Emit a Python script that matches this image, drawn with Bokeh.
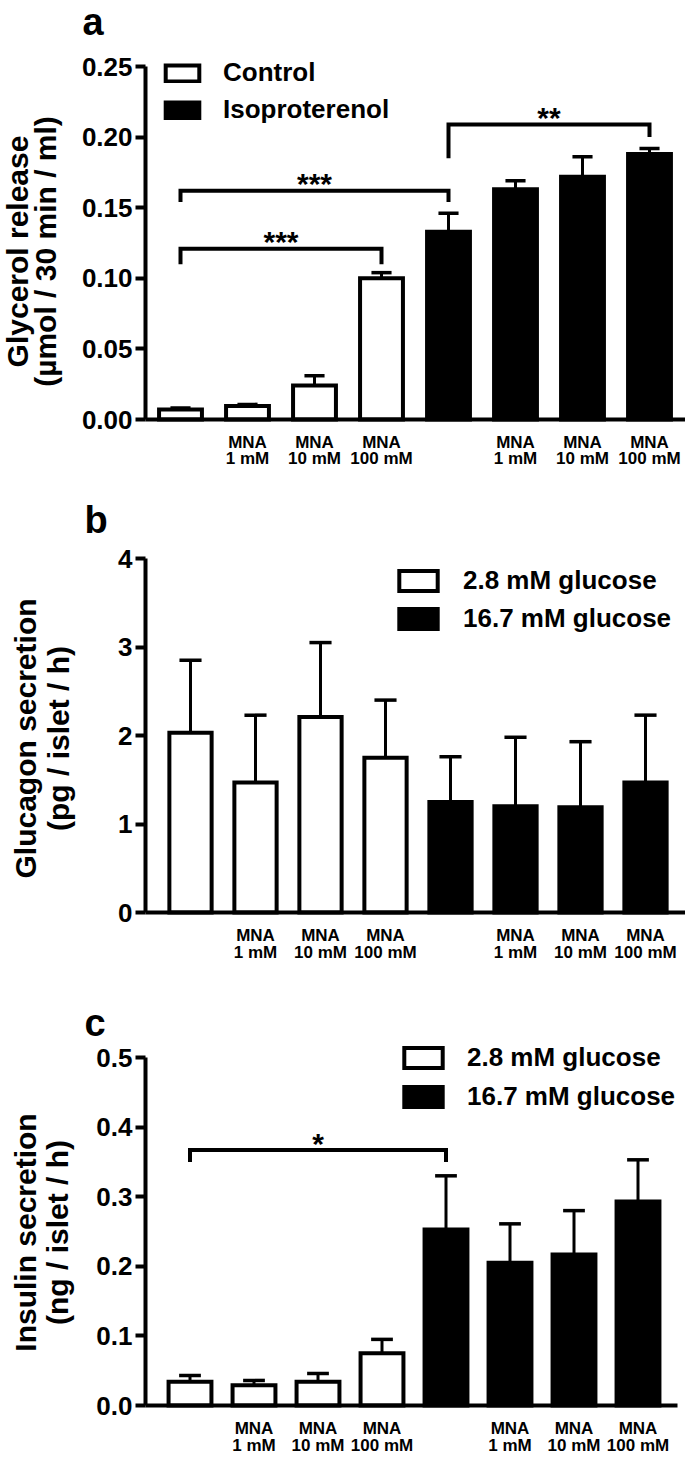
from math import pi
from bokeh.plotting import figure
from bokeh.models import (Range1d, FixedTicker, NumeralTickFormatter, Label, Legend,
                          LegendItem, ColumnDataSource)
from bokeh.layouts import column
from bokeh.embed import file_html
from bokeh.resources import INLINE
from bokeh.core.properties import value

FONT = "Liberation Sans"

# ---------------- shared categories ----------------
positions = [0, 1, 2, 3, 4, 5, 6, 7]
cat_line1 = ["", "MNA", "MNA", "MNA", "", "MNA", "MNA", "MNA"]
cat_line2 = ["", "1 mM", "10 mM", "100 mM", "", "1 mM", "10 mM", "100 mM"]
group_of = [0, 0, 0, 0, 1, 1, 1, 1]

# ---------------- panel a: glycerol ----------------
glycerol_groups = ["Control", "Isoproterenol"]
glycerol_mean = [0.007, 0.0095, 0.024, 0.100, 0.133, 0.163, 0.172, 0.188]
glycerol_sem = [0.0012, 0.0012, 0.007, 0.004, 0.013, 0.006, 0.014, 0.004]
glycerol_ticks = [0.0, 0.05, 0.10, 0.15, 0.20, 0.25]
glycerol_title = ["Glycerol release", "(µmol / 30 min / ml)"]
glycerol_br_left = [0, 0, 4]
glycerol_br_right = [3, 4, 7]
glycerol_br_y = [0.121, 0.162, 0.209]
glycerol_br_drop_left = [0.110, 0.154, 0.185]
glycerol_br_drop_right = [0.110, 0.154, 0.200]
glycerol_br_stars = ["***", "***", "**"]

# ---------------- panel b: glucagon ----------------
glucagon_groups = ["2.8 mM glucose", "16.7 mM glucose"]
glucagon_mean = [2.03, 1.47, 2.21, 1.75, 1.25, 1.20, 1.19, 1.47]
glucagon_sem = [0.82, 0.76, 0.84, 0.65, 0.51, 0.78, 0.74, 0.76]
glucagon_ticks = [0, 1, 2, 3, 4]
glucagon_title = ["Glucagon secretion", "(pg / islet / h)"]

# ---------------- panel c: insulin ----------------
insulin_groups = ["2.8 mM glucose", "16.7 mM glucose"]
insulin_mean = [0.034, 0.029, 0.034, 0.075, 0.253, 0.205, 0.217, 0.293]
insulin_sem = [0.009, 0.007, 0.012, 0.020, 0.077, 0.056, 0.063, 0.060]
insulin_ticks = [0.0, 0.1, 0.2, 0.3, 0.4, 0.5]
insulin_title = ["Insulin secretion", "(ng / islet / h)"]
insulin_br_left = [0]
insulin_br_right = [4]
insulin_br_y = [0.367]
insulin_br_drop_left = [0.350]
insulin_br_drop_right = [0.350]
insulin_br_stars = ["*"]

FILLS = ["white", "black"]
PAGE_LEFT, PAGE_RIGHT = 0, 685


def make_panel(letter, means, sems, groups, ymax, ticks, fmt, title, g, brackets=None):
    top, H = g["top"], g["H"]
    bottom = top + H
    x0, pitch = g["x0"], g["pitch"]
    zero, ppu = g["zero"], g["ppu"]
    xl = (PAGE_LEFT - x0) / pitch
    xr = (PAGE_RIGHT - x0) / pitch
    x_axis_end = (g["axis_end"] - x0) / pitch
    yaxis_at = (g["axis"] - x0) / pitch
    yt = (zero - top) / ppu
    yb = -(bottom - zero) / ppu

    def sx(px):
        return px - PAGE_LEFT

    def sy(py):
        return bottom - py

    p = figure(width=PAGE_RIGHT - PAGE_LEFT, height=H, x_range=Range1d(xl, xr),
               y_range=Range1d(yb, yt), output_backend="svg", toolbar_location=None,
               min_border_left=0, min_border_right=0, min_border_top=0, min_border_bottom=0)
    p.outline_line_color = None
    p.xgrid.grid_line_color = None
    p.ygrid.grid_line_color = None
    p.background_fill_color = "white"
    p.border_fill_color = "white"

    rends = []
    for gi, fill in enumerate(FILLS):
        idx = [i for i in range(len(positions)) if group_of[i] == gi]
        src = ColumnDataSource(dict(x=[positions[i] for i in idx], top=[means[i] for i in idx]))
        r = p.vbar(x="x", top="top", bottom=0, width=g["bw"], source=src,
                   fill_color=fill, line_color="black", line_width=4, line_join="miter")
        rends.append(r)

    tops = [m + s for m, s in zip(means, sems)]
    cw = g["cw"]
    p.segment(x0=positions, y0=means, x1=positions, y1=tops, line_color="black", line_width=3)
    p.segment(x0=[x - cw / 2 for x in positions], y0=tops, x1=[x + cw / 2 for x in positions],
              y1=tops, line_color="black", line_width=3.5)

    if brackets:
        bl, br, by, dl, dr, stars = brackets
        xs = [[a, a, b, b] for a, b in zip(bl, br)]
        ys = [[d0, y, y, d1] for d0, y, d1 in zip(dl, by, dr)]
        p.multi_line(xs=xs, ys=ys, line_color="black", line_width=4, line_join="miter")
        p.text(x=[(a + b) / 2 for a, b in zip(bl, br)], y=by, text=stars,
               text_font=value(FONT), text_font_style="bold", text_font_size="30px",
               text_align="center", text_baseline="alphabetic", y_offset=-7, text_color="black")

    yax = p.yaxis[0]
    yax.fixed_location = yaxis_at
    yax.bounds = (0, ymax)
    yax.ticker = FixedTicker(ticks=ticks)
    yax.formatter = NumeralTickFormatter(format=fmt)
    yax.axis_line_width = 4
    yax.axis_line_color = "black"
    yax.major_tick_line_width = 4
    yax.major_tick_out = 10
    yax.major_tick_in = 0
    yax.minor_tick_line_color = None
    yax.major_label_text_font = FONT
    yax.major_label_text_font_style = "bold"
    yax.major_label_text_font_size = "26px"
    yax.major_label_text_color = "black"
    yax.major_label_standoff = 3

    xax = p.xaxis[0]
    xax.fixed_location = 0
    xax.bounds = (yaxis_at, x_axis_end)
    xax.ticker = FixedTicker(ticks=[])
    xax.axis_line_width = 4
    xax.axis_line_color = "black"
    xax.major_tick_line_color = None
    xax.minor_tick_line_color = None
    xax.major_label_text_font_size = "0px"

    for x, t1, t2 in zip(positions, cat_line1, cat_line2):
        if t1:
            for txt, yy in ((t1, g["cat_y"][0]), (t2, g["cat_y"][1])):
                p.add_layout(Label(x=x, y=sy(yy), x_units="data", y_units="screen", text=txt,
                                   text_align="center", text_baseline="middle",
                                   text_font=FONT, text_font_style="bold",
                                   text_font_size="17px", text_color="black"))

    for txt, tx in zip(title, g["title_x"]):
        p.add_layout(Label(x=sx(tx), y=sy(g["title_y"]), x_units="screen", y_units="screen",
                           text=txt, angle=pi / 2, text_align="center",
                           text_baseline="middle", text_font=FONT,
                           text_font_style="bold", text_font_size="30px", text_color="black"))

    lx, ly = g["letter"]
    p.add_layout(Label(x=sx(lx), y=sy(ly), x_units="screen", y_units="screen", text=letter,
                       text_align="left", text_baseline="middle", text_font=FONT,
                       text_font_style="bold", text_font_size="38px", text_color="black"))

    gx, gy = g["legend"]
    legend = Legend(items=[LegendItem(label=groups[0], renderers=[rends[0]]),
                           LegendItem(label=groups[1], renderers=[rends[1]])],
                    location=(sx(gx), sy(gy)), orientation="vertical",
                    glyph_width=g["gw"], glyph_height=g["gh"], label_height=30,
                    label_standoff=g["lstand"], spacing=g["lsp"], padding=0, margin=0,
                    border_line_color=None, background_fill_alpha=0,
                    label_text_font=FONT, label_text_font_style="bold",
                    label_text_font_size="26px", label_text_color="black")
    p.add_layout(legend)
    return p


geom_a = dict(top=0, H=480, x0=180, pitch=67, axis=145, axis_end=685, zero=419, ppu=1412,
              bw=0.64, cw=0.30, cat_y=(442, 458), title_x=(16.5, 44.5), title_y=251,
              letter=(82, 21.5), legend=(161, 125), gw=42, gh=20, lstand=20, lsp=6)
geom_b = dict(top=480, H=490, x0=190, pitch=65, axis=145, axis_end=685, zero=912, ppu=88.5,
              bw=0.65, cw=0.34, cat_y=(935, 952), title_x=(24.5, 57.5), title_y=738,
              letter=(84, 519), legend=(394, 634), gw=48, gh=25, lstand=21, lsp=7)
geom_c = dict(top=970, H=489, x0=189.5, pitch=64, axis=145, axis_end=677, zero=1405, ppu=696,
              bw=0.67, cw=0.34, cat_y=(1428, 1445), title_x=(24.5, 56.5), title_y=1232,
              letter=(84, 1022), legend=(399, 1112), gw=48, gh=25, lstand=20, lsp=8)

pa = make_panel("a", glycerol_mean, glycerol_sem, glycerol_groups, 0.25, glycerol_ticks, "0.00",
                glycerol_title, geom_a,
                (glycerol_br_left, glycerol_br_right, glycerol_br_y, glycerol_br_drop_left,
                 glycerol_br_drop_right, glycerol_br_stars))
pb = make_panel("b", glucagon_mean, glucagon_sem, glucagon_groups, 4, glucagon_ticks, "0",
                glucagon_title, geom_b)
pc = make_panel("c", insulin_mean, insulin_sem, insulin_groups, 0.5, insulin_ticks, "0.0",
                insulin_title, geom_c,
                (insulin_br_left, insulin_br_right, insulin_br_y, insulin_br_drop_left,
                 insulin_br_drop_right, insulin_br_stars))

layout = column(pa, pb, pc, spacing=0)
open("out.html", "w").write(file_html(layout, INLINE, title="figure"))
